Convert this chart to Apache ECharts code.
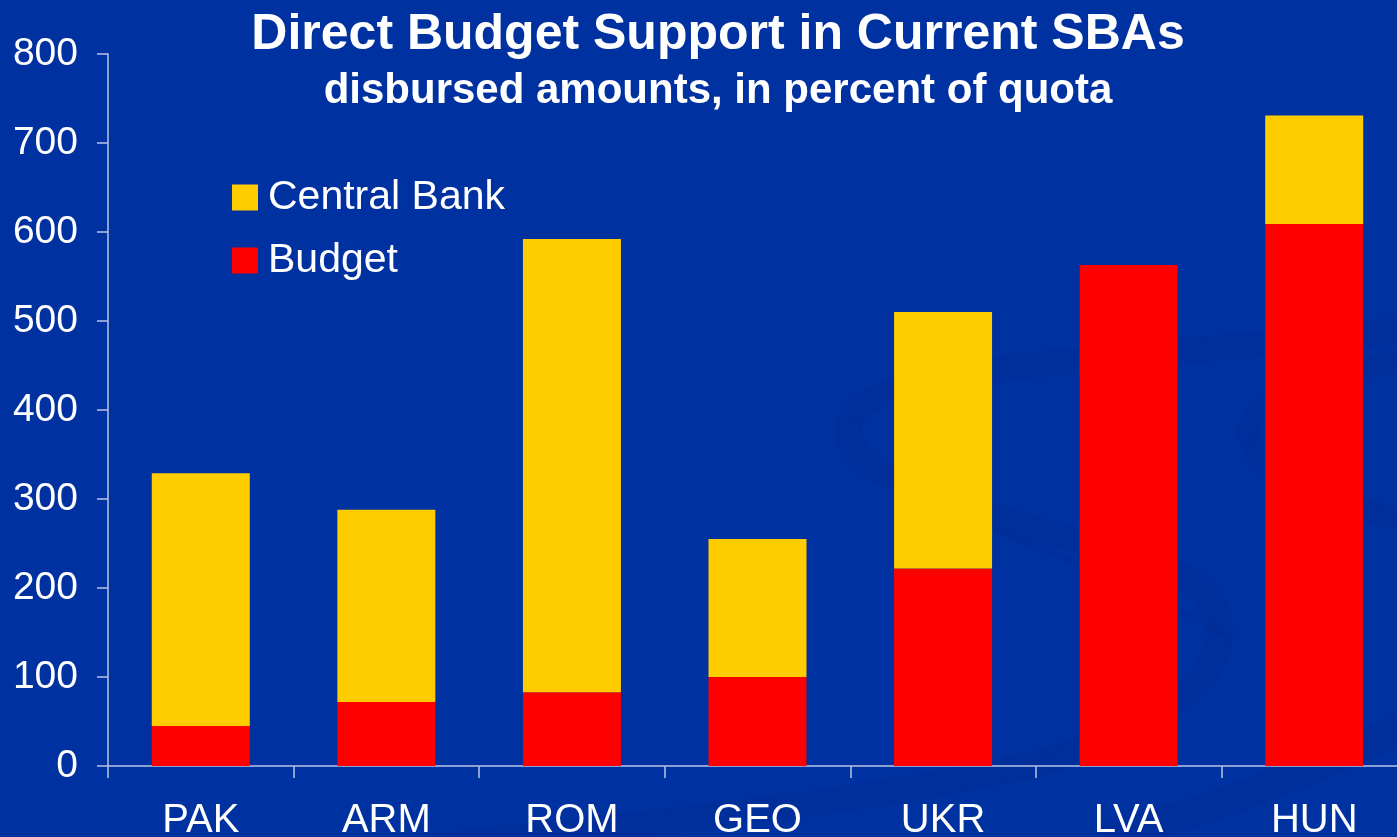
<!DOCTYPE html>
<html>
<head>
<meta charset="utf-8">
<script src="https://cdn.jsdelivr.net/npm/echarts@6/dist/echarts.min.js"></script>
<style>
  html, body { margin: 0; padding: 0; background: #0031a0; }
  #chart { width: 1397px; height: 837px; }
</style>
</head>
<body>
<div id="chart"></div>
<script>
// Direct budget support in current SBAs, percent of quota
const countries = ['PAK', 'ARM', 'ROM', 'GEO', 'UKR', 'LVA', 'HUN'];
const budget = [45, 72, 83, 100, 222, 563, 609];
const centralBank = [284, 216, 509, 155, 288, 0, 122];
const yTicks = [0, 100, 200, 300, 400, 500, 600, 700, 800];

const FONT = 'Liberation Sans, Arial, sans-serif';
const AXIS_COLOR = '#b9c3e6';
const SWIRL = '#002a92';

// faint decorative swirl, drawn as cubic bezier pieces
function swirl(x1, y1, c1x, c1y, c2x, c2y, x2, y2, w) {
  return {
    type: 'bezierCurve', silent: true, z: -10,
    shape: { x1: x1, y1: y1, cpx1: c1x, cpy1: c1y, cpx2: c2x, cpy2: c2y, x2: x2, y2: y2 },
    style: { fill: 'none', stroke: SWIRL, lineWidth: w, opacity: 0.38 }
  };
}

const chart = echarts.init(document.getElementById('chart'));
chart.setOption({
  backgroundColor: '#0031a0',
  animation: false,
  graphic: [
    swirl(1400, 330, 1150, 360, 880, 360, 850, 420, 26),
    swirl(850, 420, 830, 480, 1000, 520, 1150, 560, 26),
    swirl(1150, 560, 1260, 600, 1250, 700, 1050, 760, 26),
    swirl(1050, 760, 900, 800, 600, 830, 300, 860, 26),
    swirl(1400, 360, 1300, 380, 1240, 400, 1250, 440, 22),
    swirl(1250, 440, 1260, 480, 1330, 500, 1400, 520, 22),
    swirl(960, 515, 1060, 560, 1160, 590, 1230, 640, 5),
    swirl(1100, 840, 1250, 800, 1330, 760, 1400, 730, 30)
  ],
  title: [
    { text: 'Direct Budget Support in Current SBAs', left: 713, top: 5, textAlign: 'center',
      textStyle: { color: '#ffffff', fontFamily: FONT, fontWeight: 'bold', fontSize: 50 } },
    { text: 'disbursed amounts, in percent of quota', left: 713, top: 65, textAlign: 'center',
      textStyle: { color: '#ffffff', fontFamily: FONT, fontWeight: 'bold', fontSize: 42 } }
  ],
  legend: {
    orient: 'vertical', left: 227, top: 172, itemWidth: 26, itemHeight: 26, itemGap: 22,
    icon: 'rect', data: ['Central Bank', 'Budget'],
    textStyle: { color: '#ffffff', fontFamily: FONT, fontSize: 41, padding: [0, 0, 0, 5] }
  },
  grid: { left: 108, top: 54, height: 712, width: 1299, outerBoundsMode: 'none', containLabel: false },
  xAxis: {
    type: 'category', data: countries, boundaryGap: true,
    axisLine: { lineStyle: { color: AXIS_COLOR, width: 1.5 } },
    axisTick: { show: true, length: 12, lineStyle: { color: AXIS_COLOR, width: 1.5 } },
    axisLabel: { color: '#ffffff', fontFamily: FONT, fontSize: 40, margin: 35 }
  },
  yAxis: {
    type: 'value', min: 0, max: 800, interval: 100,
    axisLine: { show: true, lineStyle: { color: AXIS_COLOR, width: 1.5 } },
    axisTick: { show: true, length: 11, lineStyle: { color: AXIS_COLOR, width: 1.5 } },
    splitLine: { show: false },
    axisLabel: { color: '#ffffff', fontFamily: FONT, fontSize: 39, margin: 30,
      formatter: v => yTicks.includes(v) ? String(v) : '' }
  },
  series: [
    { name: 'Budget', type: 'bar', stack: 'total', data: budget, barWidth: 98,
      itemStyle: { color: '#ff0000' } },
    { name: 'Central Bank', type: 'bar', stack: 'total', data: centralBank, barWidth: 98,
      itemStyle: { color: '#ffcc00' } }
  ]
});
</script>
</body>
</html>
